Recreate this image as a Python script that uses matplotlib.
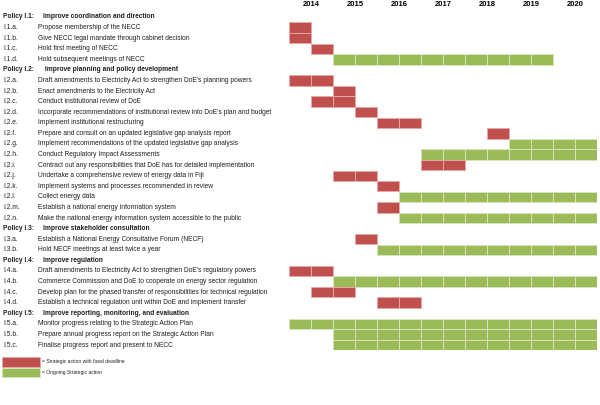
import matplotlib
matplotlib.use("Agg")
import matplotlib.pyplot as plt

years = ["2014", "2015", "2016", "2017", "2018", "2019", "2020"]

# (code, text, first half-year index, number of half-years, kind)  kind: h=header, r=fixed deadline, g=ongoing
rows = [
    ("Policy I.1:", "Improve coordination and direction", 0, 0, "h"),
    ("I.1.a.", "Propose membership of the NECC", 0, 1, "r"),
    ("I.1.b.", "Give NECC legal mandate through cabinet decision", 0, 1, "r"),
    ("I.1.c.", "Hold first meeting of NECC", 1, 1, "r"),
    ("I.1.d.", "Hold subsequent meetings of NECC", 2, 10, "g"),
    ("Policy I.2:", " Improve planning and policy development", 0, 0, "h"),
    ("I.2.a.", "Draft amendments to Electricity Act to strengthen DoE's planning powers", 0, 2, "r"),
    ("I.2.b.", "Enact amendments to the Electricity Act", 2, 1, "r"),
    ("I.2.c.", "Conduct institutional review of DoE", 1, 2, "r"),
    ("I.2.d.", "Incorporate recommendations of institutional review into DoE's plan and budget", 3, 1, "r"),
    ("I.2.e.", "Implement institutional restructuring", 4, 2, "r"),
    ("I.2.f.", "Prepare and consult on an updated legislative gap analysis report", 9, 1, "r"),
    ("I.2.g.", "Implement recommendations of the updated legislative gap analysis", 10, 4, "g"),
    ("I.2.h.", "Conduct Regulatory Impact Assessments", 6, 8, "g"),
    ("I.2.i.", "Contract out any responsibilities that DoE has for detailed implementation", 6, 2, "r"),
    ("I.2.j.", "Undertake a comprehensive review of energy data in Fiji", 2, 2, "r"),
    ("I.2.k.", "Implement systems and processes recommended in review", 4, 1, "r"),
    ("I.2.l.", "Collect energy data", 5, 9, "g"),
    ("I.2.m.", "Establish a national energy information system", 4, 1, "r"),
    ("I.2.n.", "Make the national energy information system accessible to the public", 5, 9, "g"),
    ("Policy I.3:", "Improve stakeholder consultation", 0, 0, "h"),
    ("I.3.a.", "Establish a National Energy Consultative Forum (NECF)", 3, 1, "r"),
    ("I.3.b.", "Hold NECF meetings at least twice a year", 4, 10, "g"),
    ("Policy I.4:", "Improve regulation", 0, 0, "h"),
    ("I.4.a.", "Draft amendments to Electricity Act to strengthen DoE's regulatory powers", 0, 2, "r"),
    ("I.4.b.", "Commerce Commission and DoE to cooperate on energy sector regulation", 2, 12, "g"),
    ("I.4.c.", "Develop plan for the phased transfer of responsibilities for technical regulation", 1, 2, "r"),
    ("I.4.d.", "Establish a technical regulation unit within DoE and implement transfer", 4, 2, "r"),
    ("Policy I.5:", "Improve reporting, monitoring, and evaluation", 0, 0, "h"),
    ("I.5.a.", "Monitor progress relating to the Strategic Action Plan", 0, 14, "g"),
    ("I.5.b.", "Prepare annual progress report on the Strategic Action Plan", 2, 12, "g"),
    ("I.5.c.", "Finalise progress report and present to NECC", 2, 12, "g"),
]

legend_items = [("r", "= Strategic action with fixed deadline"), ("g", "= Ongoing Strategic action")]

fill = {"r": "#c0504d", "g": "#9bbb59"}
edge = {"r": "#e8a9a7", "g": "#d6e6bc"}

plt.rcParams["font.family"] = "Liberation Sans"
fig = plt.figure(figsize=(6, 4.05), dpi=100)
# axes spans the half-year grid; pixel layout: x 289..597, rows from y=17 with ~10.58 px pitch
ax = fig.add_axes([289 / 600, 1 - 350.3 / 405, 308 / 600, 338.6 / 405])
ax.set_xlim(0, 14)
ax.set_ylim(31.5, -0.5)
ax.axis("off")

px = 14 / 308  # data units per pixel in x
for i, (code, text, start, n, kind) in enumerate(rows):
    bold = kind == "h"
    ax.text((3 - 289) * px, i, code, fontsize=4.8, va="center", ha="left",
            fontweight="bold" if bold else "normal", color="#1f1f1f")
    ax.text(((43 if bold else 38) - 289) * px, i, text, fontsize=4.8, va="center", ha="left",
            fontweight="bold" if bold else "normal", color="#1f1f1f")
    if n:
        ax.barh([i] * n, [1] * n, left=list(range(start, start + n)), height=0.98,
                color=fill[kind], edgecolor=edge[kind], linewidth=0.7)

for k, y in enumerate(years):
    ax.text(2 * k + 1, -1.15, y, fontsize=5.5, fontweight="bold", ha="center", va="center")

for j, (kind, label) in enumerate(legend_items):
    yy = 32.6 + j * 1.0
    ax.barh(yy, (40 - 2) * px, left=(2 - 289) * px, height=0.9, color=fill[kind],
            edgecolor=edge[kind], linewidth=0.7, clip_on=False)
    ax.text((42 - 289) * px, yy, label, fontsize=3.6, va="center", ha="left", color="#1f1f1f")

fig.savefig("out.png", dpi=100)
